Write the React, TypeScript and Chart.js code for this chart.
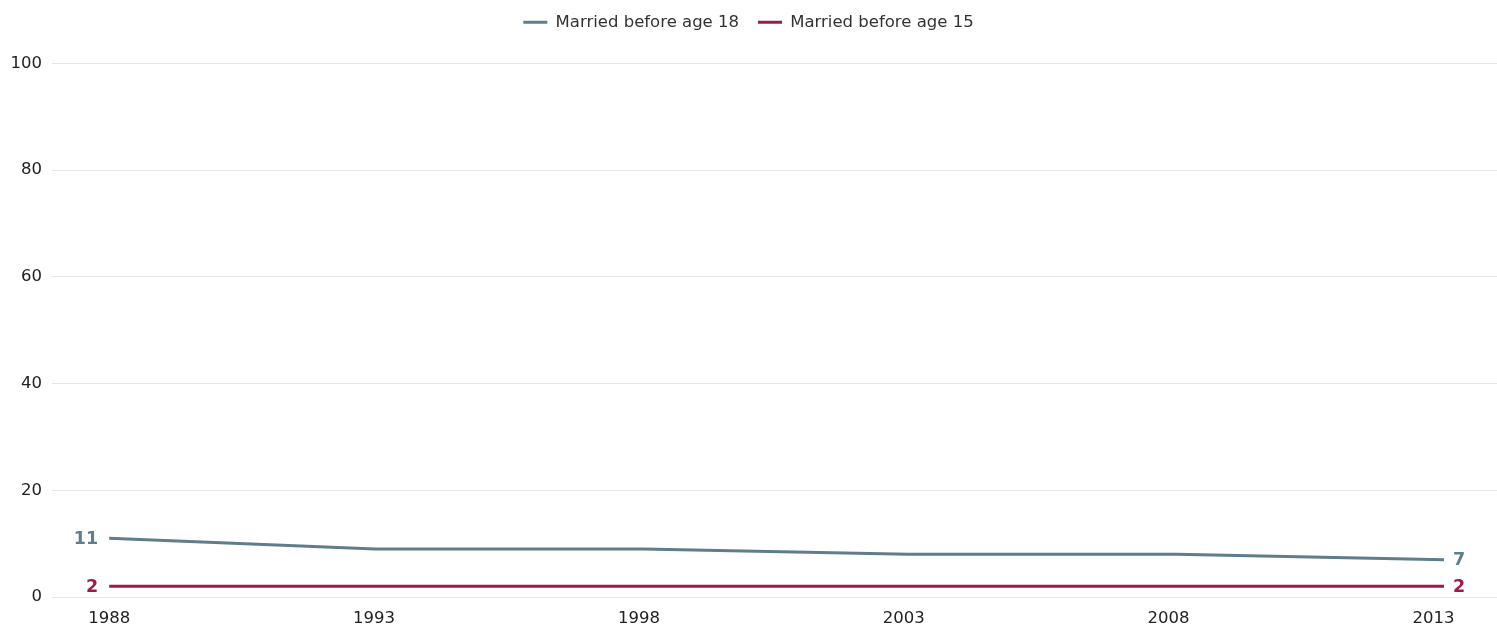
import React, { useEffect, useRef } from "react";
import { Chart, registerables } from "chart.js";

Chart.register(...registerables);

const years = [1988, 1993.02, 1998.07, 2003.08, 2008.15, 2013.2];
const before18 = [11, 9, 9, 8, 8, 7];
const before15 = [2, 2, 2, 2, 2, 2];
const tickYears = [1988, 1993, 1998, 2003, 2008, 2013];
const seriesNames = ["Married before age 18", "Married before age 15"];
const colors = ["#5f7d8a", "#9c1b4b"];
const FONT = "'DejaVu Sans', sans-serif";
const FS = 16.5;

const endLabels = {
  id: "endLabels",
  afterDatasetsDraw(chart: any) {
    const ctx = chart.ctx;
    ctx.save();
    ctx.font = `bold 17.5px ${FONT}`;
    ctx.textBaseline = "middle";
    chart.data.datasets.forEach((ds: any, i: number) => {
      const meta = chart.getDatasetMeta(i);
      const pts = meta.data;
      if (!pts.length) return;
      const first = pts[0];
      const last = pts[pts.length - 1];
      ctx.fillStyle = ds.borderColor;
      ctx.textAlign = "right";
      ctx.fillText(String(ds.data[0].y), first.x - 11, first.y + 1);
      ctx.textAlign = "left";
      ctx.fillText(String(ds.data[ds.data.length - 1].y), last.x + 9, last.y + 1);
    });
    ctx.restore();
  },
};

const legendMargin = {
  id: "legendMargin",
  beforeInit(chart: any) {
    const orig = chart.legend.fit;
    chart.legend.fit = function () {
      orig.bind(chart.legend)();
      this.height += 23;
    };
  },
};

export default function App() {
  const ref = useRef<HTMLCanvasElement | null>(null);
  useEffect(() => {
    document.body.style.margin = "0";
    const mk = (vals: number[]) => vals.map((v, i) => ({ x: years[i], y: v }));
    const chart = new Chart(ref.current!, {
      type: "line",
      data: {
        datasets: [
          { label: seriesNames[0], data: mk(before18), borderColor: colors[0], backgroundColor: colors[0], borderWidth: 3, pointRadius: 0, tension: 0 },
          { label: seriesNames[1], data: mk(before15), borderColor: colors[1], backgroundColor: colors[1], borderWidth: 3, pointRadius: 0, tension: 0 },
        ],
      },
      options: {
        animation: false,
        responsive: true,
        maintainAspectRatio: false,
        layout: { padding: { top: -5, right: 0, left: 0, bottom: 0 } },
        plugins: {
          legend: {
            position: "top",
            labels: {
              boxWidth: 24,
              boxHeight: 3,
              padding: 19,
              font: { family: FONT, size: FS },
              color: "#333",
              generateLabels: (c: any) =>
                Chart.defaults.plugins.legend.labels.generateLabels(c).map((l: any) => ({ ...l, lineWidth: 0, strokeStyle: "transparent" })),
            },
          },
          tooltip: { enabled: false },
        },
        scales: {
          x: {
            type: "linear",
            min: 1986.92,
            max: 2014.2,
            afterBuildTicks: (s: any) => { s.ticks = tickYears.map((v) => ({ value: v })); },
            ticks: { font: { family: FONT, size: FS }, color: "#222", callback: (v: any) => String(v), maxRotation: 0, autoSkip: false, padding: 12 },
            grid: { display: false, drawTicks: false },
            border: { display: false },
            afterFit: (s: any) => { s.height = 28; },
          },
          y: {
            min: 0,
            max: 100,
            ticks: { stepSize: 20, font: { family: FONT, size: FS }, color: "#222", padding: 10 },
            grid: { color: "#e6e6e6", drawTicks: false },
            border: { display: false },
            afterFit: (s: any) => { s.width = 52; },
          },
        },
      },
      plugins: [endLabels, legendMargin],
    });
    return () => chart.destroy();
  }, []);
  return (
    <div style={{ position: "relative", width: 1497, height: 625 }}>
      <canvas ref={ref} />
    </div>
  );
}
